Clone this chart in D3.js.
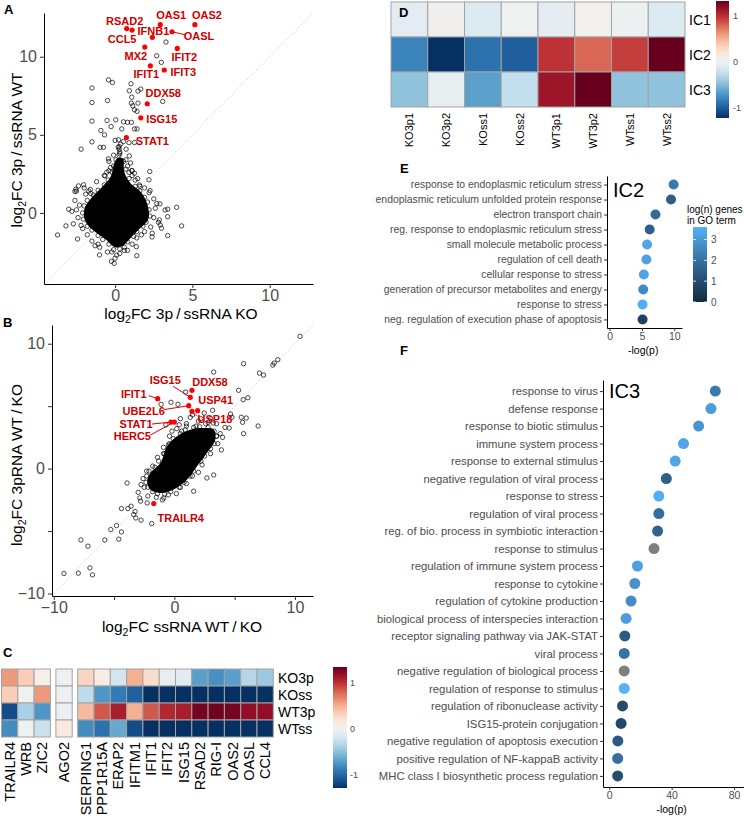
<!DOCTYPE html>
<html>
<head>
<meta charset="utf-8">
<script src="https://cdn.jsdelivr.net/npm/d3@7"></script>
<style>
body { margin: 0; background: #fff; }
svg { font-family: "Liberation Sans", Arial, Helvetica, sans-serif; }
</style>
</head>
<body>
<svg id="fig" width="744" height="821"></svg>
<script>
// ---------- data ----------

// A: log2FC 3p/ssRNA in KO (x) against WT (y)
var outliersA = [[-0.43,8.52],[-0.17,8.35],[-1.5,8.0],[1.03,8.27],[-1.5,7.07],[-0.49,7.2],[0.92,7.82],[1.48,7.8],[1.66,7.93],
  [1.08,7.41],[1.05,7.03],[1.48,7.03],[1.14,6.86],[1.25,6.6],[1.42,6.5],[-1.5,5.88],[-0.52,5.92],[-0.26,5.53],[0.04,5.96],
  [0.54,5.83],[0.8,5.8],[1.05,5.8],[1.25,5.38],[1.42,5.38],[0.43,5.38],[-0.92,5.28],[-0.69,5.0],[-1.5,4.55],[-2.2,4.08],
  [-0.97,4.2],[-0.75,4.2],[0.0,4.64],[0.22,4.68],[0.54,4.57],[0.9,4.5],[0.26,4.25],[0.26,4.08],[0.71,4.08],[-0.43,3.46],
  [0.92,3.65],[1.08,2.71],[1.25,2.54],[1.46,2.2],[2.24,2.65],[-2.04,1.8],[-2.37,1.73],[-2.54,1.52],[-2.6,1.37],[-3.0,0.24],
  [-3.18,-0.83],[-3.72,-1.41],[-2.43,-1.67],[-1.01,-2.69],[-0.24,-3.1],[-0.06,-3.23],[1.4,-2.74],[2.9,0.58],[3.4,0.24],
  [3.4,-0.24],[2.86,-0.45],[3.4,-1.45],[3.0,-0.98],[3.29,10.94],[2.69,10.06],[2.99,9.64],[3.08,7.14],[1.25,4.51],
  [-0.21,-2.5],[1.37,-2.16],[2.39,-1.54],[2.92,-0.77],[3.98,0.36],[4.3,-0.83],[2.19,2.12],[2.26,1.43],[1.57,1.79],
  [1.1,2.71],[-0.54,2.61],[-0.65,2.37],[-2.5,1.4],[-1.57,1.24],[3.23,0.19],[0.3,3.9],[0.2,4.2],[0.35,4.4],[0.25,3.7]];
// circles around and on the edge of the saturated centre
var rimA = [[-2.6,0.8],[-2.5,0.2],[-2.4,-0.3],[-2.3,0.5],[-2.2,-0.8],[-2.1,-1.0],[-1.9,1.2],[-1.8,-1.4],[-1.7,1.4],
  [-1.6,1.5],[-1.5,-1.8],[-1.2,2.0],[-1.1,-2.0],[-1.0,-2.2],[-0.7,2.4],[-0.5,-2.5],[-0.4,2.7],[-0.3,2.9],[0.1,-2.7],
  [0.3,-2.6],[0.6,-2.4],[0.8,-2.4],[1.1,-2.0],[1.4,-1.6],[1.7,-1.4],[1.9,-1.2],[2.3,-0.9],[2.5,-0.3],[2.6,0.3],[2.5,0.9],
  [2.2,1.3],[1.9,1.6],[1.6,1.7],[1.3,2.1],[1.1,2.4],[0.9,2.6],[0.8,3.0],[0.7,3.4],[0.3,3.8],[-0.1,3.7],[-2.8,0.1],
  [-2.7,-0.7],[2.8,-0.6],[2.7,0.6],[-1.3,-2.1],[0.0,-2.9],[1.0,3.2],[-0.4,3.3],[2.4,-1.3],[-2.0,1.6],
  [0.55,3.3],[0.7,2.8],[0.9,2.2],[1.3,1.7],[1.6,1.4],[1.9,1.0],[2.1,0.7],[2.2,0.2],[2.25,-0.2],[2.0,-0.6],[1.8,-0.85],
  [1.4,-1.2],[1.2,-1.5],[0.8,-1.85],[0.6,-2.2],[0.3,-2.3],[-0.1,-2.35],[-0.4,-2.0],[-0.8,-1.7],[-1.1,-1.45],[-1.5,-1.1],
  [-1.8,-0.85],[-2.05,-0.4],[-2.1,0.0],[-2.0,0.45],[-1.8,0.8],[-1.4,1.15],[-1.1,1.45],[-0.7,1.8],[-0.45,2.1],[-0.2,2.6],
  [-0.1,3.0],[0.05,3.4]];
// outline of the solid black centre
var coreA = [[0.15,3.5],[0.5,3.5],[0.6,2.6],[1.0,1.9],[1.7,1.3],[2.1,0.5],[2.15,-0.4],[1.6,-1.0],[1.0,-1.6],[0.5,-2.1],
  [0.0,-2.2],[-0.6,-1.7],[-1.3,-1.2],[-1.9,-0.6],[-2.0,0.2],[-1.5,1.0],[-0.9,1.6],[-0.3,2.3],[-0.05,3.2]];
var hitsA = [["RSAD2",0.75,11.8],["CCL5",1.1,11.71],["OAS1",2.92,12.05],["OAS2",5.16,12.05],["IFNB1",2.41,11.24],
  ["OASL",3.68,11.6],["MX2",1.92,10.62],["IFIT2",4.02,10.53],["IFIT1",2.28,9.42],["IFIT3",3.18,9.15],
  ["DDX58",2.08,6.99],["ISG15",1.66,6.09],["STAT1",0.73,4.83]];

// B: log2FC ssRNA WT/KO (x) against 3pRNA WT/KO (y)
var outliersB = [[10.43,10.59],[5.74,8.4],[3.26,7.73],[7.06,7.65],[7.4,7.49],[8.17,8.29],[8.28,8.45],[8.58,8.72],
  [0.94,6.13],[5.33,6.27],[5.71,5.52],[6.1,5.68],[3.17,4.67],[-1.1,5.15],[-0.28,5.31],[0.3,5.15],[4.66,4.37],[4.77,4.11],
  [5.55,4.11],[5.96,4.05],[4.55,3.25],[5.66,3.71],[6.95,3.41],[5.74,2.8],[3.23,3.65],[1.32,4.11],[2.48,4.45],
  [-3.92,-1.15],[-2.76,-1.28],[-4.39,-3.2],[-3.86,-3.2],[-3.26,-3.44],[-3.37,-3.68],[-3.2,-3.95],[-2.76,-4.13],
  [-1.88,-4.4],[-5.27,-4.88],[-4.8,-4.56],[-4.39,-5.07],[-5.77,-5.71],[-4.61,-5.65],[-7.75,-5.71],[-7.17,-6.21],
  [-9.16,-8.4],[-7.97,-8.37],[-7.0,-7.95],[-6.79,-8.51],[0.17,-2.0],[-0.88,-2.35],[-2.26,-2.75],[-2.87,-2.35],
  [-3.59,-3.01],[1.6,-1.81],[3.26,-0.51],[2.7,-0.75]];
var rimB = [[-2.5,-1.5],[-2.6,-0.8],[-2.2,-2.2],[-1.5,-2.3],[-0.5,-2.1],[0.5,-1.5],[1.5,-0.6],[2.3,0.3],[3.0,1.2],
  [3.6,2.0],[3.8,2.8],[3.5,3.6],[2.8,3.7],[2.0,3.8],[1.0,3.6],[0.2,3.2],[-0.4,2.6],[-0.9,1.7],[-1.4,0.9],[-1.8,0.2],
  [-2.3,-0.2],[4.0,2.5],[4.2,3.3],[-3.0,-1.9],[-2.8,-2.6],[0.5,4.0],[1.5,4.3],[-0.7,3.5],[3.9,1.5],[2.0,-0.3],
  [1.0,-1.2],[-1.0,-2.5],[0.6,3.0],[1.0,3.4],[1.8,3.4],[2.6,3.6],[3.1,3.0],[3.5,2.6],[-0.4,2.0],[-0.8,1.2],
  [-0.2,3.0],[0.4,3.5],[2.2,4.0],[3.0,4.0],
  [-2.1,-0.2],[-1.6,0.1],[-1.3,0.6],[-0.9,1.2],[-0.5,1.9],[-0.1,2.4],[0.5,2.8],[0.9,3.1],[1.6,3.3],[2.1,3.35],
  [2.8,3.3],[3.3,3.0],[3.5,2.6],[3.3,2.0],[3.0,1.6],[2.5,1.0],[2.2,0.6],[1.6,-0.2],[1.3,-0.6],[0.8,-1.1],[0.4,-1.5],
  [-0.3,-1.85],[-0.8,-2.05],[-1.4,-2.0],[-1.8,-1.85],[-2.2,-1.5],[-2.35,-1.1],[-2.3,-0.6]];
var coreB = [[-1.99,-0.35],[-1.16,0.45],[-0.61,1.79],[0.22,2.59],[1.32,3.12],[2.43,3.25],[3.26,3.12],[3.39,2.32],
  [2.7,1.25],[1.88,0.19],[1.05,-0.88],[-0.06,-1.68],[-1.16,-1.95],[-1.99,-1.68],[-2.26,-1.01]];
var hitsB = [["IFIT1",-1.38,5.6],["ISG15",1.32,5.71],["DDX58",1.46,6.27],["USP41",1.93,4.64],["USP18",1.46,4.59],
  ["UBE2L6",1.19,5.04],["STAT1",-0.28,3.73],["HERC5",0.0,3.73],["TRAILR4",-1.71,-2.8]];

// C: scaled expression of selected genes
var genesC = [["TRAILR4","WRB","ZIC2"],["AGO2"],
  ["SERPING1","PPP1R15A","ERAP2","IFITM1","IFIT1","IFIT2","ISG15","RSAD2","RIG-I","OAS2","OASL","CCL4"]];
var rowsC = ["KO3p","KOss","WT3p","WTss"];
var valuesC = [
  [0.6,0.35,0.08, 0.0, 0.3,0.12,-0.2,0.5,0.25,-0.08,-0.12,-0.7,-0.78,-0.7,-0.35,-0.45],
  [0.35,0.0,0.6, -0.02, -0.3,-0.75,-0.9,-1.05,-1.3,-1.3,-1.3,-1.3,-1.3,-1.3,-1.3,-1.3],
  [-1.15,-0.4,-0.75, -0.05, 0.45,0.85,1.1,0.5,0.85,1.05,1.1,1.3,1.32,1.3,1.2,1.2],
  [-0.8,0.0,-0.25, 0.15, -0.8,-0.95,-0.65,-1.15,-1.3,-1.3,-1.3,-1.3,-1.3,-1.3,-1.3,-1.3]];
var rangeC = [-1.29, 1.35];

// D: independent component loadings per sample
var samplesD = ["KO3p1","KO3p2","KOss1","KOss2","WT3p1","WT3p2","WTss1","WTss2"];
var compsD = ["IC1","IC2","IC3"];
var valuesD = [
  [-0.08,0.05,-0.12,0.03,-0.06,0.06,0.01,-0.12],
  [-0.8,-1.23,-0.9,-1.0,1.0,0.8,0.95,1.34],
  [-0.45,-0.05,-0.65,-0.25,1.15,1.34,-0.45,-0.45]];
var rangeD = [-1.23, 1.34];

// E: GO terms for IC2
var termsE = ["response to endoplasmic reticulum stress","endoplasmic reticulum unfolded protein response",
  "electron transport chain","reg. response to endoplasmic reticulum stress","small molecule metabolic process",
  "regulation of cell death","cellular response to stress","generation of precursor metabolites and energy",
  "response to stress","neg. regulation of execution phase of apoptosis"];
var pE = [9.9,9.5,7.1,6.2,5.8,5.7,5.3,5.2,5.1,5.1];
var nE = [2.2,1.5,1.8,1.5,3.3,3.2,3.25,2.6,3.5,0.7];

// F: GO terms for IC3 (null = no gene count)
var termsF = ["response to virus","defense response","response to biotic stimulus","immune system process",
  "response to external stimulus","negative regulation of viral process","response to stress",
  "regulation of viral process","reg. of bio. process in symbiotic interaction","response to stimulus",
  "regulation of immune system process","response to cytokine","regulation of cytokine production",
  "biological process of interspecies interaction","receptor signaling pathway via JAK-STAT","viral process",
  "negative regulation of biological process","regulation of response to stimulus",
  "regulation of ribonuclease activity","ISG15-protein conjugation","negative regulation of apoptosis execution",
  "positive regulation of NF-kappaB activity","MHC class I biosynthetic process regulation"];
var pF = [68,65.2,57.3,47.6,42.3,36.6,31.8,31.8,31,28.7,18.1,16.4,14,10.8,10,9.6,9.6,9.6,8.5,7.6,5.5,5.4,5.4];
var nF = [2.2,3.1,2.9,3.3,3.3,1.5,3.5,1.9,1.6,null,3.2,2.8,2.7,3.1,1.4,2.0,null,3.6,1.0,0.9,1.4,1.9,1.0];
var nRange = [0, 3.6];

// ---------- drawing ----------
var svg = d3.select('#fig');
var grey = '#4D4D4D';

function letter(t, x, y) {
  svg.append('text').attr('x', x).attr('y', y)
    .attr('font-size', 13).attr('font-weight', 'bold').text(t);
}

function styleAxis(a, size) {
  a.attr('font-family', null).attr('font-size', size);
  a.select('.domain').attr('stroke', '#000').attr('stroke-width', 1);
  a.selectAll('.tick line').attr('stroke', '#333');
  a.selectAll('.tick text').attr('fill', grey);
}

function log2Title(x, y, rest, rotate) {
  var t = svg.append('text').attr('font-size', 15.5).attr('text-anchor', 'middle')
    .attr('transform', 'translate(' + x + ',' + y + ')' + (rotate ? ' rotate(-90)' : ''));
  t.append('tspan').text('log');
  t.append('tspan').attr('font-size', 10.5).attr('dy', 4).text('2');
  t.append('tspan').attr('dy', -4).text(rest);
}

function scatter(o) {
  var x = o.x, y = o.y, g = svg.append('g');
  var lo = Math.max(x.domain()[0], y.domain()[0]), hi = Math.min(x.domain()[1], y.domain()[1]);
  g.append('line')
    .attr('x1', x(lo)).attr('y1', y(lo)).attr('x2', x(hi)).attr('y2', y(hi))
    .attr('stroke', '#c8c8c8').attr('stroke-width', 0.8).attr('stroke-dasharray', '1.5,2');
  g.append('path').datum(o.core)
    .attr('d', d3.line().x(d => x(d[0])).y(d => y(d[1])).curve(d3.curveCatmullRomClosed))
    .attr('fill', '#000');
  g.selectAll('circle.pt').data(o.points).join('circle')
    .attr('cx', d => x(d[0])).attr('cy', d => y(d[1])).attr('r', 2.2)
    .attr('fill', 'none').attr('stroke', '#000').attr('stroke-width', 0.7);

  var hits = g.selectAll('g.hit').data(o.hits).join('g');
  hits.filter(d => o.nudge[d[0]].length > 2).append('line')
    .attr('x1', d => x(d[1])).attr('y1', d => y(d[2]))
    .attr('x2', d => x(d[1]) + o.nudge[d[0]][2]).attr('y2', d => y(d[2]) + o.nudge[d[0]][3])
    .attr('stroke', '#e00000').attr('stroke-width', 1);
  hits.append('circle')
    .attr('cx', d => x(d[1])).attr('cy', d => y(d[2])).attr('r', 2.6).attr('fill', '#ff0000');
  hits.append('text')
    .attr('x', d => x(d[1]) + o.nudge[d[0]][0]).attr('y', d => y(d[2]) + o.nudge[d[0]][1])
    .attr('text-anchor', 'middle').attr('dominant-baseline', 'central')
    .attr('font-size', 11).attr('font-weight', 'bold').attr('fill', '#cd0000')
    .text(d => d[0]);

  var ya = g.append('g').attr('transform', 'translate(' + x.range()[0] + ',0)')
    .call(d3.axisLeft(y).tickValues(o.ticks).tickFormat(o.fmt).tickSize(4).tickSizeOuter(0).tickPadding(3));
  styleAxis(ya, 16);
  var xa = g.append('g').attr('transform', 'translate(0,' + y.range()[0] + ')')
    .call(d3.axisBottom(x).tickValues(o.ticks).tickFormat(o.fmt).tickSize(4).tickSizeOuter(0).tickPadding(2));
  styleAxis(xa, 16);
}

// A
var xA = d3.scaleLinear().domain([-4.6, 12.8]).range([44, 313]);
var yA = d3.scaleLinear().domain([-4.55, 12.8]).range([284, 13]);
scatter({
  x: xA, y: yA, core: coreA, points: outliersA.concat(rimA), hits: hitsA,
  ticks: [0, 5, 10], fmt: d3.format(''),
  nudge: {RSAD2: [-2, -8], CCL5: [-10, 9], OAS1: [11, -10], OAS2: [12, -10], IFNB1: [1, -6],
    OASL: [27, 4, 13, 3], MX2: [-9, 9], IFIT2: [7, 9], IFIT1: [-4, 8], IFIT3: [19, 1.5],
    DDX58: [16, -11], ISG15: [21, 1], STAT1: [26, 4]}
});
log2Title(181, 319, 'FC 3p\u2009/\u2009ssRNA KO', false);
log2Title(22, 150, 'FC 3p\u2009/\u2009ssRNA WT', true);

// B
var xB = d3.scaleLinear().domain([-10.15, 11.5]).range([52, 313]);
var yB = d3.scaleLinear().domain([-10.2, 11.5]).range([596, 325]);
scatter({
  x: xB, y: yB, core: coreB, points: outliersB.concat(rimB), hits: hitsB,
  ticks: [-10, -5, 0, 5, 10], fmt: d => d % 10 === 0 ? d3.format('')(d) : '',
  nudge: {IFIT1: [-24, -5, -9, -3], ISG15: [-25, -17, -17, -11], DDX58: [18, -8], USP41: [18, -11],
    USP18: [23, 8, 5, 5], UBE2L6: [-45, 5, -25, 4], STAT1: [-35, 2, -19, 2], HERC5: [-42, 14, -24, 13],
    TRAILR4: [27, 14]}
});
log2Title(182, 632, 'FC ssRNA WT\u2009/\u2009KO', false);
log2Title(22, 465, 'FC 3pRNA WT\u2009/\u2009KO', true);

// heatmap colour bar helper
function colorBar(id, color, dom, x, y0, y1, w, ticks, labX, fs) {
  var grad = svg.append('defs').append('linearGradient').attr('id', id)
    .attr('x1', 0).attr('y1', 0).attr('x2', 0).attr('y2', 1);
  d3.range(0, 1.0001, 0.05).forEach(function (t) {
    grad.append('stop').attr('offset', t).attr('stop-color', color(dom[1] + t * (dom[0] - dom[1])));
  });
  svg.append('rect').attr('x', x).attr('y', y0).attr('width', w).attr('height', y1 - y0)
    .attr('fill', 'url(#' + id + ')');
  var s = d3.scaleLinear().domain([dom[1], dom[0]]).range([y0, y1]);
  svg.selectAll('text.' + id).data(ticks).join('text')
    .attr('x', labX).attr('y', d => s(d)).attr('dominant-baseline', 'central')
    .attr('font-size', fs).attr('fill', grey).text(d => d);
}

// C
var flatC = genesC.flat();
var groupOf = {};
genesC.forEach((grp, gi) => grp.forEach(gn => { groupOf[gn] = gi; }));
var colorC = d3.scaleSequential(d3.interpolateRdBu).domain([rangeC[1], rangeC[0]]).clamp(true);
var cellC = 16.3, gapC = 5.5;
var xC = d3.scaleBand().domain(flatC).range([1.5, 1.5 + flatC.length * cellC]);
var yC = d3.scaleBand().domain(rowsC).range([669, 737]);
var cellsC = [];
rowsC.forEach((r, ri) => flatC.forEach((gn, gi) => cellsC.push({r: r, g: gn, v: valuesC[ri][gi]})));
svg.append('g').selectAll('rect').data(cellsC).join('rect')
  .attr('x', d => xC(d.g) + groupOf[d.g] * gapC).attr('y', d => yC(d.r))
  .attr('width', xC.bandwidth()).attr('height', yC.bandwidth())
  .attr('fill', d => colorC(d.v)).attr('stroke', '#a3a3a3').attr('stroke-width', 1);
svg.append('g').selectAll('text').data(flatC).join('text')
  .attr('transform', d => 'translate(' + (xC(d) + groupOf[d] * gapC + xC.bandwidth() / 2) + ',742) rotate(-90)')
  .attr('text-anchor', 'end').attr('dominant-baseline', 'central').attr('font-size', 14.5).text(d => d);
svg.append('g').selectAll('text').data(rowsC).join('text')
  .attr('x', 278).attr('y', d => yC(d) + yC.bandwidth() / 2).attr('dominant-baseline', 'central')
  .attr('font-size', 14).text(d => d);
colorBar('cbC', colorC, rangeC, 333, 667, 788, 14, [1, 0, -1], 350, 9);

// D
var colorD = d3.scaleSequential(d3.interpolateRdBu).domain([rangeD[1], rangeD[0]]).clamp(true);
var xD = d3.scaleBand().domain(samplesD).range([391, 685]);
var yD = d3.scaleBand().domain(compsD).range([2, 107]);
var cellsD = [];
compsD.forEach((c, ci) => samplesD.forEach((s, si) => cellsD.push({c: c, s: s, v: valuesD[ci][si]})));
svg.append('g').selectAll('rect').data(cellsD).join('rect')
  .attr('x', d => xD(d.s)).attr('y', d => yD(d.c)).attr('width', xD.bandwidth()).attr('height', yD.bandwidth())
  .attr('fill', d => colorD(d.v)).attr('stroke', '#a3a3a3').attr('stroke-width', 1);
svg.append('g').selectAll('text').data(samplesD).join('text')
  .attr('transform', d => 'translate(' + (xD(d) + xD.bandwidth() / 2) + ',113) rotate(-90)')
  .attr('text-anchor', 'end').attr('dominant-baseline', 'central').attr('font-size', 11).text(d => d);
svg.append('g').selectAll('text').data(compsD).join('text')
  .attr('x', 689).attr('y', d => yD(d) + yD.bandwidth() / 2).attr('dominant-baseline', 'central')
  .attr('font-size', 14).text(d => d);
colorBar('cbD', colorD, rangeD, 716, 1, 118, 13, [1, 0, -1], 733, 9);

// E and F dot plots
var colorN = d3.scaleLinear().domain(nRange).range(['#132B43', '#56B1F7']).interpolate(d3.interpolateLab);

function dotPanel(o) {
  var g = svg.append('g');
  var ya = g.append('g').attr('transform', 'translate(' + o.x.range()[0] + ',0)')
    .call(d3.axisLeft(o.y).tickSize(3).tickSizeOuter(0).tickPadding(2));
  styleAxis(ya, o.fs);
  var xa = g.append('g').attr('transform', 'translate(0,' + o.y.range()[1] + ')')
    .call(d3.axisBottom(o.x).tickValues(o.ticks).tickSize(3).tickSizeOuter(0).tickPadding(2));
  styleAxis(xa, 10.5);
  g.selectAll('circle').data(o.terms).join('circle')
    .attr('cx', (d, i) => o.x(o.p[i])).attr('cy', d => o.y(d)).attr('r', o.r)
    .attr('fill', (d, i) => o.n[i] == null ? '#7F7F7F' : colorN(o.n[i]));
  g.append('text').attr('x', o.x.range()[0] + 6).attr('y', o.y(o.terms[0]) + 7 + o.titleDy)
    .attr('font-size', 20).text(o.title);
  g.append('text').attr('x', o.x(o.labelAt)).attr('y', o.y.range()[1] + 26)
    .attr('text-anchor', 'middle').attr('font-size', 10.5).text('-log(p)');
}

var xE = d3.scaleLinear().domain([-0.4, 11.2]).range([607, 682]);
var yE = d3.scalePoint().domain(termsE).range([176, 328]).padding(0.57);
dotPanel({x: xE, y: yE, terms: termsE, p: pE, n: nE, r: 5, fs: 10.4, ticks: [0, 5, 10],
  title: 'IC2', titleDy: 5, labelAt: 5.2});

var xF = d3.scaleLinear().domain([-4, 86.4]).range([603, 744]);
var yF = d3.scalePoint().domain(termsF).range([380, 787]).padding(0.635);
dotPanel({x: xF, y: yF, terms: termsF, p: pF, n: nF, r: 5.5, fs: 11.3, ticks: [0, 40, 80],
  title: 'IC3', titleDy: 0, labelAt: 40});

// legend for gene counts
svg.append('text').attr('x', 687).attr('y', 213).attr('font-size', 10).text('log(n) genes');
svg.append('text').attr('x', 687).attr('y', 224).attr('font-size', 10).text('in GO term');
var gradN = svg.append('defs').append('linearGradient').attr('id', 'cbN')
  .attr('x1', 0).attr('y1', 1).attr('x2', 0).attr('y2', 0);
d3.range(0, 1.0001, 0.1).forEach(t => gradN.append('stop').attr('offset', t)
  .attr('stop-color', colorN(nRange[0] + t * (nRange[1] - nRange[0]))));
var yN = d3.scaleLinear().domain(nRange).range([302, 227]);
svg.append('rect').attr('x', 693).attr('y', yN(nRange[1])).attr('width', 14)
  .attr('height', yN(nRange[0]) - yN(nRange[1])).attr('fill', 'url(#cbN)');
var nTicks = [0, 1, 2, 3];
svg.append('g').selectAll('line').data(nTicks.concat(nTicks)).join('line')
  .attr('x1', (d, i) => i < 4 ? 693 : 704).attr('x2', (d, i) => i < 4 ? 696 : 707)
  .attr('y1', d => yN(d)).attr('y2', d => yN(d)).attr('stroke', '#fff').attr('stroke-width', 0.8);
svg.append('g').selectAll('text').data(nTicks).join('text')
  .attr('x', 711).attr('y', d => yN(d)).attr('dominant-baseline', 'central')
  .attr('font-size', 10).attr('fill', grey).text(d => d);

letter('A', 4, 14);
letter('B', 3, 327);
letter('C', 3, 657);
letter('D', 399, 17);
letter('E', 400, 173);
letter('F', 400, 355);
</script>
</body>
</html>
